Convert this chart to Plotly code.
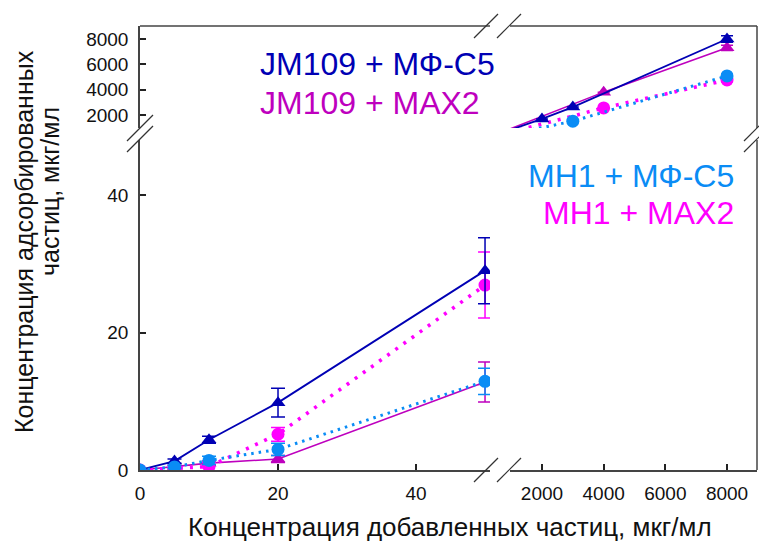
import numpy as np
import plotly.graph_objects as go

# Added particle concentration, µg/ml
conc_jm_mf = [0, 5, 10, 20, 50, 2000, 3000, 8000]
conc_jm_max = [0, 5, 10, 20, 50, 4000, 8000]
conc_mh_mf = [0, 5, 10, 20, 50, 3000, 8000]
conc_mh_max = [0, 5, 10, 20, 50, 4000, 8000]

# Adsorbed particle concentration, µg/ml
ads_jm_mf = [0, 1.3, 4.4, 9.8, 29.0, 1680, 2620, 8000]
ads_jm_max = [0, 0.5, 1.0, 1.6, 12.8, 3800, 7300]
ads_mh_mf = [0, 0.45, 1.4, 3.0, 12.9, 1500, 5080]
ads_mh_max = [0, 0.2, 0.5, 5.2, 26.9, 2550, 4760]

# Standard deviations
err_jm_mf = [0, 0.3, 0.5, 2.1, 4.8, 0, 0, 250]
err_jm_max = [0, 0.2, 0.3, 0.5, 2.9, 0, 200]
err_mh_mf = [0, 0.2, 0.6, 0.9, 1.9, 0, 150]
err_mh_max = [0, 0.2, 0.6, 1.0, 4.8, 0, 150]

low_x_ticks = [0, 20, 40]
low_y_ticks = [0, 20, 40]
high_x_ticks = [2000, 4000, 6000, 8000]
high_y_ticks = [2000, 4000, 6000, 8000]

NAVY = "#0000B4"
PURPLE = "#BE00BE"
SKY = "#0A8CF5"
PINK = "#FF00FF"
FONT = "Arial, Liberation Sans, sans-serif"

series = [
    dict(x=conc_jm_max, y=ads_jm_max, e=err_jm_max, color=PURPLE, sym="triangle-up", dash="solid", lw=1.6),
    dict(x=conc_mh_max, y=ads_mh_max, e=err_mh_max, color=PINK, sym="circle", dash="3px,7px", lw=3.6),
    dict(x=conc_jm_mf, y=ads_jm_mf, e=err_jm_mf, color=NAVY, sym="triangle-up", dash="solid", lw=1.8),
    dict(x=conc_mh_mf, y=ads_mh_mf, e=err_mh_mf, color=SKY, sym="circle", dash="2.5px,5px", lw=3),
]

LOW_MAX = 50

fig = go.Figure()
for s in series:
    xs = np.array(s["x"], dtype=float)
    ys = np.array(s["y"], dtype=float)
    es = np.array(s["e"], dtype=float)
    low = xs <= LOW_MAX
    common = dict(
        mode="lines+markers",
        line=dict(color=s["color"], width=s["lw"], dash=s["dash"]),
        marker=dict(color=s["color"], symbol=s["sym"], size=13, line=dict(width=0)),
        showlegend=False,
        hoverinfo="skip",
    )
    # low-concentration panel
    fig.add_trace(go.Scatter(
        x=xs[low], y=ys[low],
        error_y=dict(type="data", array=es[low], color=s["color"], thickness=1.5, width=7),
        xaxis="x", yaxis="y", **common))
    # high-concentration panel (line segments entering from the low range are clipped)
    fig.add_trace(go.Scatter(
        x=xs, y=ys,
        error_y=dict(type="data", array=es, color=s["color"], thickness=1.5, width=6),
        xaxis="x2", yaxis="y2", **common))

# plot area in pixels
L, R, T, B = 140, 757, 26, 470
W, H = R - L, B - T


def px(xp):
    return (xp - L) / W


def py(yp):
    return (B - yp) / H


x_split_a, x_split_b = px(490), px(510)
y_split_a, y_split_b = py(140), py(128)

axis_common = dict(
    showgrid=False, zeroline=False, showline=True, linecolor="#444", linewidth=1.5,
    ticks="inside", ticklen=6, tickwidth=1.5, tickcolor="#222",
    tickfont=dict(family=FONT, size=19, color="#111"),
)

fig.update_layout(
    width=759, height=546,
    margin=dict(l=L, r=759 - R, t=T, b=546 - B),
    paper_bgcolor="white", plot_bgcolor="white",
    xaxis=dict(domain=[0, x_split_a], anchor="y", range=[0, 50.72], tickvals=low_x_ticks,
               ticklabelstandoff=5, **axis_common),
    xaxis2=dict(domain=[x_split_b, 1], anchor="y", range=[963, 8972], tickvals=high_x_ticks,
                ticklabelstandoff=5, **axis_common),
    yaxis=dict(domain=[0, y_split_a], anchor="x", range=[0, 48], tickvals=low_y_ticks,
               ticklabelstandoff=6, **axis_common),
    yaxis2=dict(domain=[y_split_b, 1], anchor="x", range=[964, 9028], tickvals=high_y_ticks,
                ticklabelstandoff=6, **axis_common),
)

# frame: top and right edges with gaps at the breaks
frame = dict(type="line", xref="paper", yref="paper", line=dict(color="#444", width=1.5))
shapes = [
    dict(x0=0, x1=x_split_a, y0=1, y1=1, **frame),
    dict(x0=x_split_b, x1=1, y0=1, y1=1, **frame),
    dict(x0=1, x1=1, y0=1, y1=y_split_b, **frame),
    dict(x0=1, x1=1, y0=y_split_a, y1=0, **frame),
]


def slash(cx, cy, half=12):
    return dict(type="line", xref="paper", yref="paper",
                x0=px(cx - half), y0=py(cy + half), x1=px(cx + half), y1=py(cy - half),
                line=dict(color="#333", width=1.2))


for cx in (486, 509):
    shapes.append(slash(cx, B))
    shapes.append(slash(cx, T))
for cy in (128, 139):
    shapes.append(slash(L, cy, half=13))
    shapes.append(slash(R, cy, half=13))
fig.update_layout(shapes=shapes)

labels = [
    ("JM109 + МФ-С5", NAVY, 258, 64, "left"),
    ("JM109 + MAX2", PURPLE, 258, 103, "left"),
    ("MH1 + МФ-С5", SKY, 736, 176, "right"),
    ("MH1 + MAX2", PINK, 736, 213, "right"),
]
for text, color, xp, yp, anchor in labels:
    fig.add_annotation(text=text, xref="paper", yref="paper", x=px(xp), y=py(yp),
                       xanchor=anchor, yanchor="middle", showarrow=False,
                       font=dict(family=FONT, size=32, color=color))

fig.add_annotation(text="Концентрация добавленных частиц, мкг/мл", xref="paper", yref="paper",
                   x=px(450), y=py(527), xanchor="center", yanchor="middle", showarrow=False,
                   font=dict(family=FONT, size=26, color="#111"))
fig.add_annotation(text="Концентрация адсорбированных", xref="paper", yref="paper",
                   x=px(24), y=py(242), xanchor="center", yanchor="middle", showarrow=False,
                   textangle=-90, font=dict(family=FONT, size=25, color="#111"))
fig.add_annotation(text="частиц, мкг/мл", xref="paper", yref="paper",
                   x=px(50), y=py(192), xanchor="center", yanchor="middle", showarrow=False,
                   textangle=-90, font=dict(family=FONT, size=25, color="#111"))

fig.write_html("out.html")
